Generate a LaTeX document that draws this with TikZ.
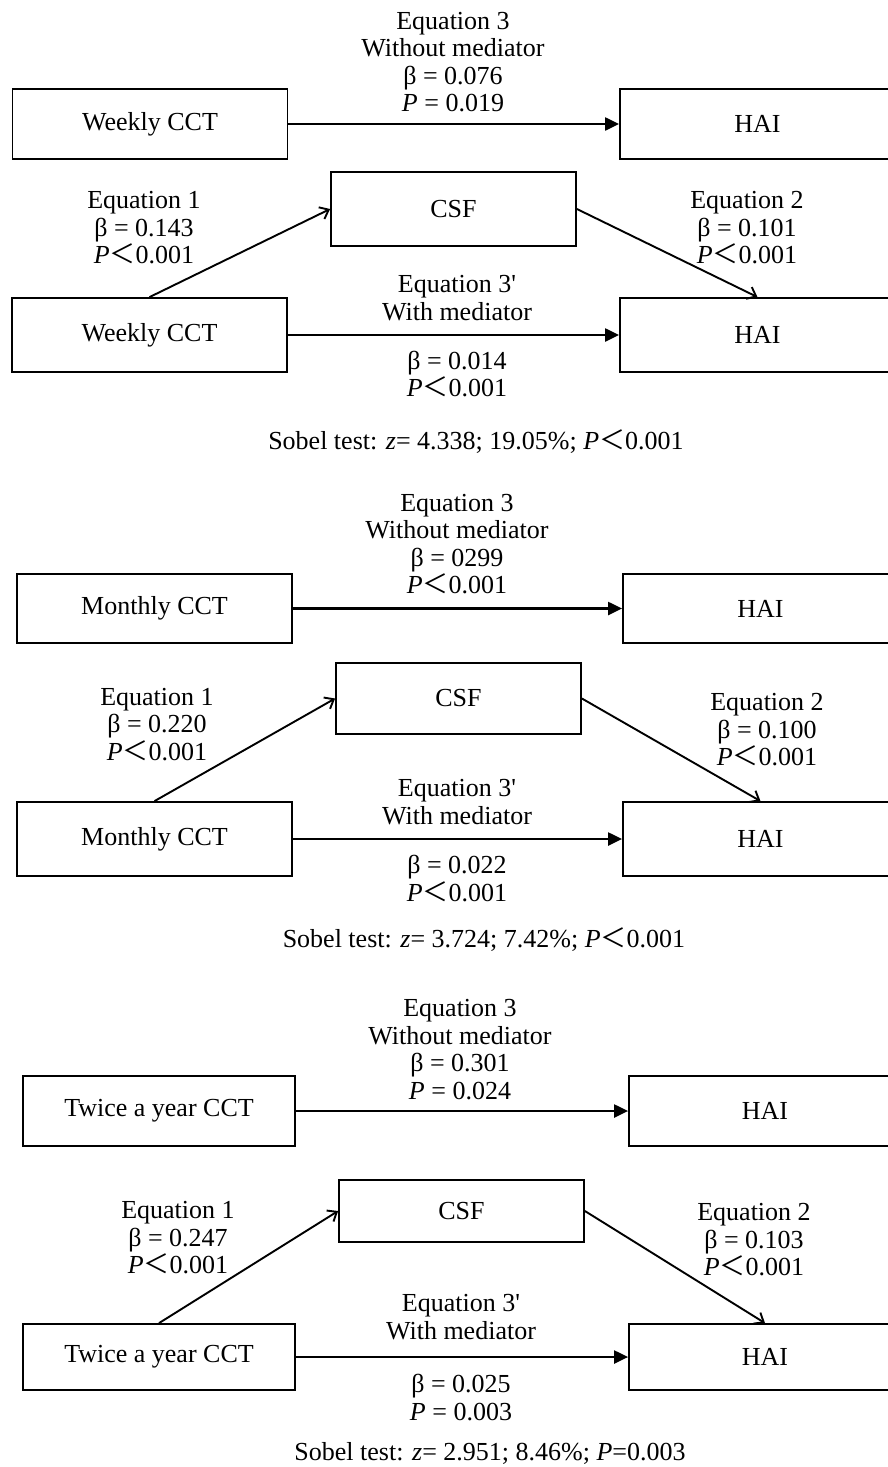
\documentclass[tikz,border=0pt]{standalone}
\usepackage{fontspec}
\setmainfont{Liberation Serif}
\newfontfamily\cjkfont{Noto Sans CJK SC}
\usetikzlibrary{arrows.meta}
\newcommand{\ltw}{{\cjkfont ＜}}
\newcommand{\sq}{\textquotesingle}
\begin{document}
\begin{tikzpicture}[x=1pt,y=-1pt,
  font=\fontsize{26}{27.5}\selectfont,
  box/.style={draw, line width=1.8pt, inner sep=0pt, minimum width=275pt},
  lab/.style={align=center, inner sep=0pt},
  harrow/.style={line width=2.2pt, -{Triangle[length=14pt,width=13pt]}},
  darrow/.style={line width=1.9pt, -{Straight Barb[length=8pt,width=13pt]}}]
\useasboundingbox (0,0) rectangle (888,1467);
\clip (0,0) rectangle (888,1467);
\fill[white] (0,0) rectangle (888,1467);

% ---------- Panel 1 ----------
\node[box, minimum height=70pt] (w1a) at (150,124) {Weekly CCT};
\node[box, minimum height=70pt] (h1a) at (757.5,124) {HAI};
\node[box, minimum width=245pt, minimum height=74pt] (c1) at (453.5,209) {CSF};
\node[box, minimum height=74pt] (w1b) at (149.5,335) {Weekly CCT};
\node[box, minimum height=74pt] (h1b) at (757.5,335) {HAI};
\draw[harrow] (w1a) -- (h1a);
\draw[harrow] (w1b) -- (h1b);
\draw[darrow] (w1b.north) -- (c1.west);
\draw[darrow] (c1.east) -- (h1b.north);
\node[lab] (l1a) at (453,62) {Equation 3\\Without mediator\\β = 0.076\\\textit{P} = 0.019};
\node[lab] (l1b) at (144,228) {Equation 1\\β = 0.143\\\textit{P}\ltw0.001};
\node[lab] (l1c) at (747,228) {Equation 2\\β = 0.101\\\textit{P}\ltw0.001};
\node[lab] (l1d) at (457,298) {Equation 3\sq\\With mediator};
\node[lab] (l1e) at (457,374) {β = 0.014\\\textit{P}\ltw0.001};
\node[lab] (s1) at (476,442) {Sobel test: \textit{z}= 4.338; 19.05\%; \textit{P}\ltw0.001};

% ---------- Panel 2 ----------
\node[box, minimum height=69pt] (m2a) at (154.5,608.5) {Monthly CCT};
\node[box, minimum height=69pt] (h2a) at (760.5,608.5) {HAI};
\node[box, minimum width=245pt, minimum height=71pt] (c2) at (458.5,698.5) {CSF};
\node[box, minimum height=74pt] (m2b) at (154.5,839) {Monthly CCT};
\node[box, minimum height=74pt] (h2b) at (760.5,839) {HAI};
\draw[harrow] (m2a) -- (h2a);
\draw[harrow] (m2b) -- (h2b);
\draw[darrow] (m2b.north) -- (c2.west);
\draw[darrow] (c2.east) -- (h2b.north);
\node[lab] (l2a) at (457,544) {Equation 3\\Without mediator\\β = 0299\\\textit{P}\ltw0.001};
\node[lab] (l2b) at (157,724.5) {Equation 1\\β = 0.220\\\textit{P}\ltw0.001};
\node[lab] (l2c) at (767,730) {Equation 2\\β = 0.100\\\textit{P}\ltw0.001};
\node[lab] (l2d) at (457,802) {Equation 3\sq\\With mediator};
\node[lab] (l2e) at (457,878.5) {β = 0.022\\\textit{P}\ltw0.001};
\node[lab] (s2) at (484,940) {Sobel test: \textit{z}= 3.724; 7.42\%; \textit{P}\ltw0.001};

% ---------- Panel 3 ----------
\node[box, minimum width=272pt, minimum height=70pt] (t3a) at (159,1111) {Twice a year CCT};
\node[box, minimum width=272pt, minimum height=70pt] (h3a) at (765,1111) {HAI};
\node[box, minimum width=245pt, minimum height=62pt] (c3) at (461.5,1211) {CSF};
\node[box, minimum width=272pt, minimum height=66pt] (t3b) at (159,1357) {Twice a year CCT};
\node[box, minimum width=272pt, minimum height=66pt] (h3b) at (765,1357) {HAI};
\draw[harrow] (t3a) -- (h3a);
\draw[harrow] (t3b) -- (h3b);
\draw[darrow] (t3b.north) -- (c3.west);
\draw[darrow] (c3.east) -- (h3b.north);
\node[lab] (l3a) at (460,1049.5) {Equation 3\\Without mediator\\β = 0.301\\\textit{P} = 0.024};
\node[lab] (l3b) at (178,1238) {Equation 1\\β = 0.247\\\textit{P}\ltw0.001};
\node[lab] (l3c) at (754,1240) {Equation 2\\β = 0.103\\\textit{P}\ltw0.001};
\node[lab] (l3d) at (461,1317) {Equation 3\sq\\With mediator};
\node[lab] (l3e) at (461,1397.5) {β = 0.025\\\textit{P} = 0.003};
\node[lab] (s3) at (490,1453) {Sobel test: \textit{z}= 2.951; 8.46\%; \textit{P}=0.003};
\end{tikzpicture}
\end{document}
